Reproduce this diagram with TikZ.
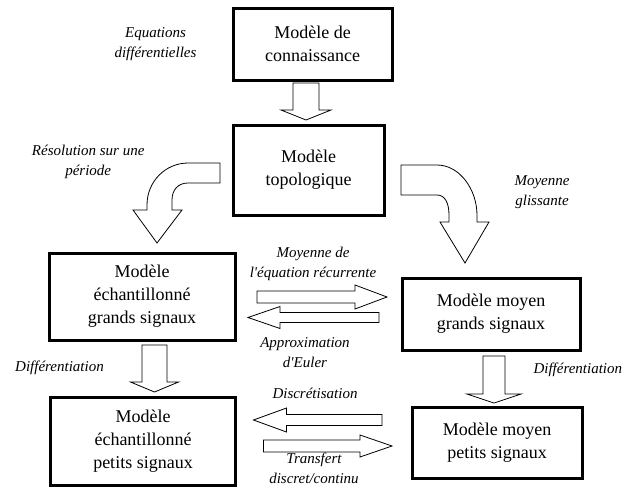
\documentclass[tikz,border=0pt]{standalone}
\usepackage{fontspec}
\setmainfont{Liberation Serif}
\usetikzlibrary{positioning,calc}

% vertical block arrow: top centre, tip, shaft half width, head half width, head length
\newcommand{\vblock}[5]{%
  \draw[blockarrow] let \p1=(#1), \p2=(#2) in
    ({\x1-#3pt},\y1) -- ({\x1-#3pt},{\y2+#5pt}) -- ({\x1-#4pt},{\y2+#5pt}) -- (\x1,\y2)
    -- ({\x1+#4pt},{\y2+#5pt}) -- ({\x1+#3pt},{\y2+#5pt}) -- ({\x1+#3pt},\y1) -- cycle;}
% horizontal block arrow: tail centre, tip, shaft half width, head half width, head length (<0 to the left)
\newcommand{\hblock}[5]{%
  \draw[blockarrow] let \p1=(#1), \p2=(#2) in
    (\x1,{\y1+#3pt}) -- ({\x2-(#5pt)},{\y1+#3pt}) -- ({\x2-(#5pt)},{\y1+#4pt}) -- (\x2,\y1)
    -- ({\x2-(#5pt)},{\y1-#4pt}) -- ({\x2-(#5pt)},{\y1-#3pt}) -- (\x1,{\y1-#3pt}) -- cycle;}

\begin{document}
\begin{tikzpicture}[x=1pt,y=-1pt,
  model/.style={draw,line width=3pt,outer sep=0pt,align=center,font=\fontsize{18}{23}\selectfont},
  lbl/.style={align=center,font=\fontsize{15}{20}\selectfont\itshape},
  blockarrow/.style={draw,line width=0.8pt,fill=white}]
\useasboundingbox (0,0) rectangle (624,488);

\node[model,minimum width=159pt,minimum height=72pt] (conn) at (312.5,44) {Modèle de\\connaissance};
\node[model,minimum width=151pt,minimum height=90pt,below=45pt of conn,xshift=-4pt] (topo) {Modèle\\topologique};
\node[model,minimum width=186pt,minimum height=87pt] (echgs) at (142,296.5) {Modèle\\échantillonné\\grands signaux};
\node[model,minimum width=178pt,minimum height=72pt] (moygs) at (491,314) {Modèle moyen\\grands signaux};
\node[model,minimum width=185pt,minimum height=88pt,below=57pt of echgs,xshift=1pt] (echps) {Modèle\\échantillonné\\petits signaux};
\node[model,minimum width=170pt,minimum height=71pt,below=57pt of moygs,xshift=6pt] (moyps) {Modèle moyen\\petits signaux};

\node[lbl,left=33pt of conn] (eqdiff) {Equations\\différentielles};
\node[lbl,left=85pt of topo,yshift=8.5pt] (resol) {Résolution sur une\\période};
\node[lbl] (glis) at (542,192) {Moyenne\\glissante};
\node[lbl] (moyrec) at (313,264) {Moyenne de\\l{\textquotesingle}équation récurrente};
\node[lbl] (euler) at (305,352.5) {Approximation\\d{\textquotesingle}Euler};
\node[lbl] (discr) at (315,393) {Discrétisation};
\node[lbl] (transf) at (314,468.5) {Transfert\\discret/continu};
\node[lbl] (diffg) at (59.5,368) {Différentiation};
\node[lbl,anchor=west] (diffd) at (530,370) {Différentiation};

% straight arrows
\vblock{$(conn.south)+(-6.5,3)$}{$(topo.north)+(0,-5)$}{13}{25}{10}
\vblock{$(echgs.south)+(12.5,5)$}{$(echps.north)+(0,-5)$}{12.5}{24}{10}
\vblock{$(moygs.south)+(3,6)$}{$(moyps.north)+(0,-4)$}{11}{27}{9}
\hblock{$(echgs.east)+(22,0.5)$}{$(moygs.west)+(-15,0)$}{6}{12}{32}
\hblock{$(moygs.west)+(-23,3.5)$}{$(echgs.east)+(13,0)$}{5}{11}{-32}
\hblock{$(moyps.west)+(-30,-22.5)$}{$(echps.east)+(18,0)$}{5.5}{12}{-33}
\hblock{$(echps.east)+(28,5)$}{$(moyps.west)+(-20,0)$}{6}{11}{32}

% curved arrows out of topo
\begin{scope}[shift={(topo.west)}]
\draw[blockarrow] (-13,-7) -- (-45,-7) .. controls (-67,-7) and (-86,11) .. (-86,35)
  -- (-86,40) -- (-100,40) -- (-76,73) -- (-51,40) -- (-61,40) -- (-61,30)
  .. controls (-61,20) and (-55,13) .. (-45,13) -- (-13,13) -- cycle;
\end{scope}
\begin{scope}[shift={(topo.east)}]
\draw[blockarrow] (17,-5) -- (53,-5) .. controls (76,-5) and (93,20) .. (93,45)
  -- (93,52) -- (105,52) -- (81,93) -- (56,52) -- (65,52) -- (65,45)
  .. controls (65,33) and (61,25) .. (53,25) -- (17,25) -- cycle;
\end{scope}
\end{tikzpicture}
\end{document}
